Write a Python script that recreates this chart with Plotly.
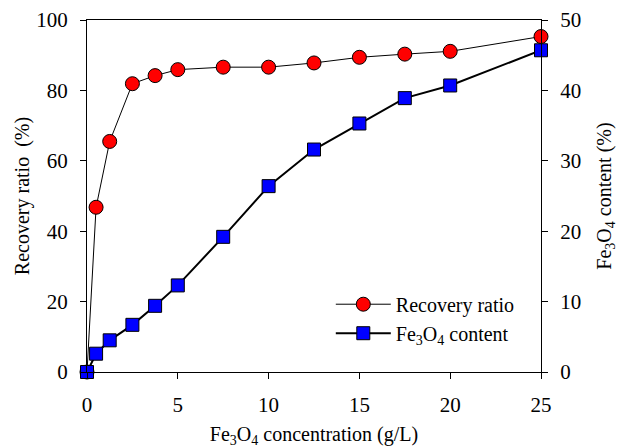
import plotly.graph_objects as go

conc = [0, 0.5, 1.25, 2.5, 3.75, 5, 7.5, 10, 12.5, 15, 17.5, 20, 25]
recovery = [0, 46.8, 65.5, 81.9, 84.2, 85.9, 86.6, 86.6, 87.8, 89.4, 90.3, 91.1, 95.3]
fe3o4_content = [0, 2.6, 4.5, 6.7, 9.4, 12.3, 19.2, 26.4, 31.6, 35.3, 38.9, 40.7, 45.7]

FONT = "Liberation Serif"

fig = go.Figure()
fig.add_trace(go.Scatter(
    x=conc, y=recovery, name="Recovery ratio", mode="lines+markers",
    line=dict(color="black", width=1),
    marker=dict(symbol="circle", size=14, color="#ff0000", line=dict(color="black", width=1)),
    cliponaxis=False,
))
fig.add_trace(go.Scatter(
    x=conc, y=fe3o4_content, name="Fe<sub>3</sub>O<sub>4</sub> content", mode="lines+markers",
    yaxis="y2",
    line=dict(color="black", width=2),
    marker=dict(symbol="square", size=13, color="#0000ff", line=dict(color="black", width=1)),
    cliponaxis=False,
))

fig.update_layout(
    width=627, height=448,
    margin=dict(l=87, r=86, t=20, b=76),
    paper_bgcolor="white", plot_bgcolor="white",
    font=dict(family=FONT, size=20, color="black"),
    showlegend=True,
    legend=dict(x=0.537, y=0.248, xanchor="left", yanchor="top", itemwidth=55,
                bgcolor="rgba(0,0,0,0)", font=dict(family=FONT, size=20), tracegroupgap=0),
    xaxis=dict(range=[0, 25], tickvals=[0, 5, 10, 15, 20, 25], automargin=False,
               showline=True, linecolor="black", linewidth=1, mirror=True,
               ticks="outside", ticklen=6, tickcolor="black", showgrid=False, zeroline=False,
               tickfont=dict(family=FONT, size=21), ticklabelstandoff=8,
               title=dict(text="Fe<sub>3</sub>O<sub>4</sub> concentration (g/L)", font=dict(family=FONT, size=20), standoff=14)),
    yaxis=dict(range=[0, 100], tickvals=[0, 20, 40, 60, 80, 100], automargin=False,
               showline=True, linecolor="black", linewidth=1,
               ticks="outside", ticklen=6, tickcolor="black", showgrid=False, zeroline=False,
               tickfont=dict(family=FONT, size=21), ticklabelstandoff=8,
               title=dict(text="Recovery ratio  (%)", font=dict(family=FONT, size=20), standoff=1)),
    yaxis2=dict(range=[0, 50], tickvals=[0, 10, 20, 30, 40, 50], overlaying="y", side="right", automargin=False,
                showline=True, linecolor="black", linewidth=1,
                ticks="outside", ticklen=6, tickcolor="black", showgrid=False, zeroline=False,
                tickfont=dict(family=FONT, size=21), ticklabelstandoff=8,
                title=dict(text="Fe<sub>3</sub>O<sub>4</sub> content (%)", font=dict(family=FONT, size=20), standoff=16)),
)

fig.write_html("out.html")
